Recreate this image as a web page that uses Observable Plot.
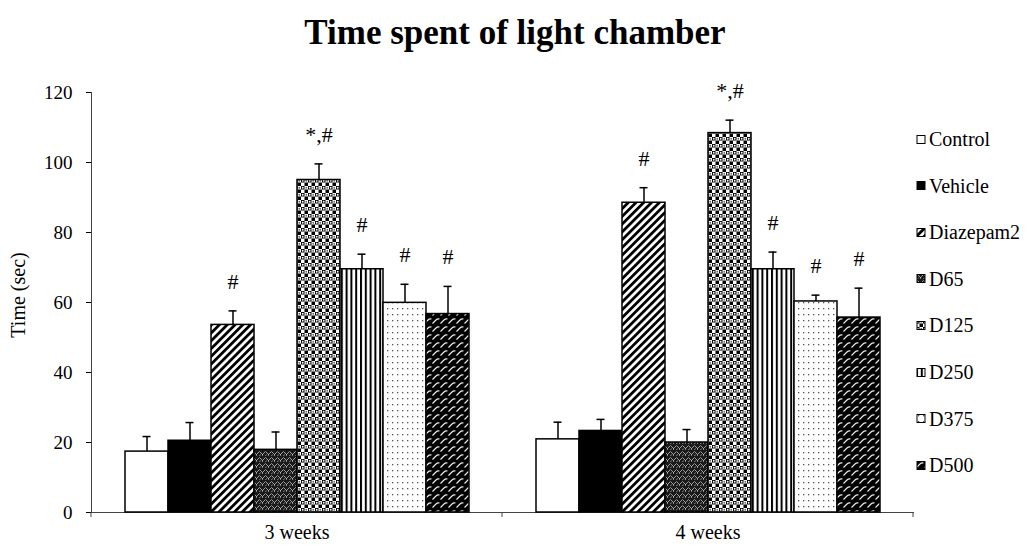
<!DOCTYPE html>
<html>
<head>
<meta charset="utf-8">
<script src="https://cdn.jsdelivr.net/npm/d3@7"></script>
<script src="https://cdn.jsdelivr.net/npm/@observablehq/plot@0.6"></script>
<style>
  body { margin: 0; background: white; font-family: "Liberation Serif", "Times New Roman", serif; }
  #wrap { position: relative; width: 1030px; height: 546px; }
  #title { position: absolute; left: 0; top: 11px; width: 1030px; text-align: center;
           font-weight: bold; font-size: 35px; line-height: 44px; color: #000; }
  #chart { position: absolute; left: 0; top: 60px; }
  #ylabel { position: absolute; left: 18px; top: 295px; transform: translate(-50%, -50%) rotate(-90deg);
            font-size: 20px; line-height: 20px; white-space: nowrap; }
  #legend { position: absolute; left: 916px; top: 0; }
  .item { position: absolute; left: 0; white-space: nowrap; font-size: 20px; line-height: 20px; display: flex; align-items: center; }
  .item svg { margin-right: 2px; }
</style>
</head>
<body>
<svg width="0" height="0" style="position:absolute">
  <defs>
    <pattern id="pat-diag" width="5.5" height="5.5" patternUnits="userSpaceOnUse" patternTransform="rotate(45)">
      <rect width="5.5" height="5.5" fill="white"/>
      <rect width="2.8" height="5.5" fill="black"/>
    </pattern>
    <pattern id="pat-wave" width="6" height="6" patternUnits="userSpaceOnUse">
      <rect width="6" height="6" fill="#1a1a1a"/>
      <path d="M0,3 q1.5,-3 3,0 t3,0" fill="none" stroke="#9a9a9a" stroke-width="1"/>
      <path d="M1,6 l2,-1.5" fill="none" stroke="#777" stroke-width="1"/>
      <rect x="4" y="4.5" width="1" height="1" fill="#eee"/>
    </pattern>
    <pattern id="pat-check" width="7" height="7" patternUnits="userSpaceOnUse">
      <rect width="7" height="7" fill="white"/>
      <rect x="0" y="0" width="3.5" height="3.5" fill="black"/>
      <rect x="3.5" y="3.5" width="3.5" height="3.5" fill="black"/>
      <circle cx="1.75" cy="1.75" r="0.9" fill="white"/>
      <circle cx="5.25" cy="1.75" r="0.9" fill="#666"/>
    </pattern>
    <pattern id="pat-vert" width="4.8" height="4.8" patternUnits="userSpaceOnUse">
      <rect width="4.8" height="4.8" fill="white"/>
      <rect width="2" height="4.8" fill="black"/>
    </pattern>
    <pattern id="pat-dots" width="5" height="6" patternUnits="userSpaceOnUse">
      <rect width="5" height="6" fill="white"/>
      <rect x="2" y="2" width="1.3" height="1.3" fill="#555"/>
    </pattern>
    <pattern id="pat-scale" width="8" height="8" patternUnits="userSpaceOnUse">
      <rect width="8" height="8" fill="black"/>
      <path d="M0.5,7.5 L4,4 Q5.5,2.5 7.5,3" fill="none" stroke="#f0f0f0" stroke-width="1.1"/>
    </pattern>
  </defs>
</svg>

<div id="wrap">
  <div id="title">Time spent of light chamber</div>
  <div id="chart"></div>
  <div id="ylabel">Time (sec)</div>
  <div id="legend"></div>
</div>

<script>
// Groups, time points and measured times (mean and upper error, seconds)
const weeks = ["3 weeks", "4 weeks"];
const groups = ["Control", "Vehicle", "Diazepam2", "D65", "D125", "D250", "D375", "D500"];
const mean3 = [17.4, 20.5, 53.6, 17.9, 95.0, 69.5, 59.9, 56.7];
const err3  = [4.3, 5.2, 4.0, 5.1, 4.6, 4.3, 5.3, 7.9];
const mean4 = [20.9, 23.3, 88.5, 20.0, 108.4, 69.5, 60.3, 55.7];
const err4  = [4.9, 3.3, 4.3, 3.7, 3.7, 4.9, 1.8, 8.4];
const sig3  = ["", "", "#", "", "*,#", "#", "#", "#"];
const sig4  = ["", "", "#", "", "*,#", "#", "#", "#"];
const yTicks = [0, 20, 40, 60, 80, 100, 120];

// Fill for each group: plain colours or hatch patterns defined above
const fills = ["white", "black", "url(#pat-diag)", "url(#pat-wave)", "url(#pat-check)",
               "url(#pat-vert)", "url(#pat-dots)", "url(#pat-scale)"];

const rows = [];
groups.forEach((g, i) => {
  rows.push({week: weeks[0], group: g, mean: mean3[i], err: err3[i], sig: sig3[i]});
  rows.push({week: weeks[1], group: g, mean: mean4[i], err: err4[i], sig: sig4[i]});
});

const serif = "'Liberation Serif', 'Times New Roman', serif";

const chart = Plot.plot({
  width: 1030,
  height: 486,
  marginLeft: 91,
  marginRight: 117,
  marginTop: 32,
  marginBottom: 34,
  style: {fontFamily: serif, fontSize: "19px", color: "black", background: "white"},
  fx: {domain: weeks, padding: 0, label: null, axis: "bottom", tickSize: 0, tickPadding: 12},
  x: {domain: groups, paddingInner: 0, paddingOuter: 0.76, axis: null},
  y: {domain: [0, 120], ticks: yTicks, tickSize: 5, tickPadding: 14, label: null},
  color: {type: "ordinal", domain: groups, range: fills},
  marks: [
    Plot.frame({anchor: "left", facet: "super", stroke: "#444"}),
    Plot.frame({anchor: "bottom", facet: "super", stroke: "#444"}),
    Plot.ruleX(rows, {fx: "week", x: "group", y1: "mean", y2: d => d.mean + d.err, stroke: "black", strokeWidth: 1.5}),
    Plot.tickY(rows, {fx: "week", x: "group", y: d => d.mean + d.err, insetLeft: 17.5, insetRight: 17.5, stroke: "black", strokeWidth: 1.5}),
    Plot.barY(rows, {fx: "week", x: "group", y: "mean", fill: "group", stroke: "black", strokeWidth: 1.5}),
    Plot.text(rows.filter(d => d.sig), {fx: "week", x: "group", y: d => d.mean + d.err, text: "sig",
      dy: -29, fontSize: 22, fontFamily: serif, fill: "black"})
  ]
});
document.getElementById("chart").appendChild(chart);

// Slightly larger type for the time-point labels under the axis
d3.select(chart).selectAll("[aria-label='fx-axis tick label'] text").style("font-size", "20px");

// Small downward ticks at the category boundaries of the x axis
const fx = chart.scale("fx");
const y = chart.scale("y");
const y0 = y.apply(0);
const svg = d3.select(chart);
const edges = [fx.apply(weeks[0])].concat(weeks.map(w => fx.apply(w) + fx.bandwidth));
svg.append("g").selectAll("line").data(edges).join("line")
  .attr("x1", d => d).attr("x2", d => d)
  .attr("y1", y0).attr("y2", y0 + 5)
  .attr("stroke", "#444");

// Legend: one swatch per group, stacked vertically
const legend = d3.select("#legend");
groups.forEach((g, i) => {
  const item = legend.append("div").attr("class", "item").style("top", (129 + i * 46.6) + "px");
  const sw = item.append("svg").attr("width", 11).attr("height", 11);
  sw.append("rect").attr("x", 1).attr("y", 1.5).attr("width", 8).attr("height", 8)
    .attr("fill", fills[i]).attr("stroke", "black").attr("stroke-width", 1);
  item.append("span").text(g);
});
</script>
</body>
</html>
